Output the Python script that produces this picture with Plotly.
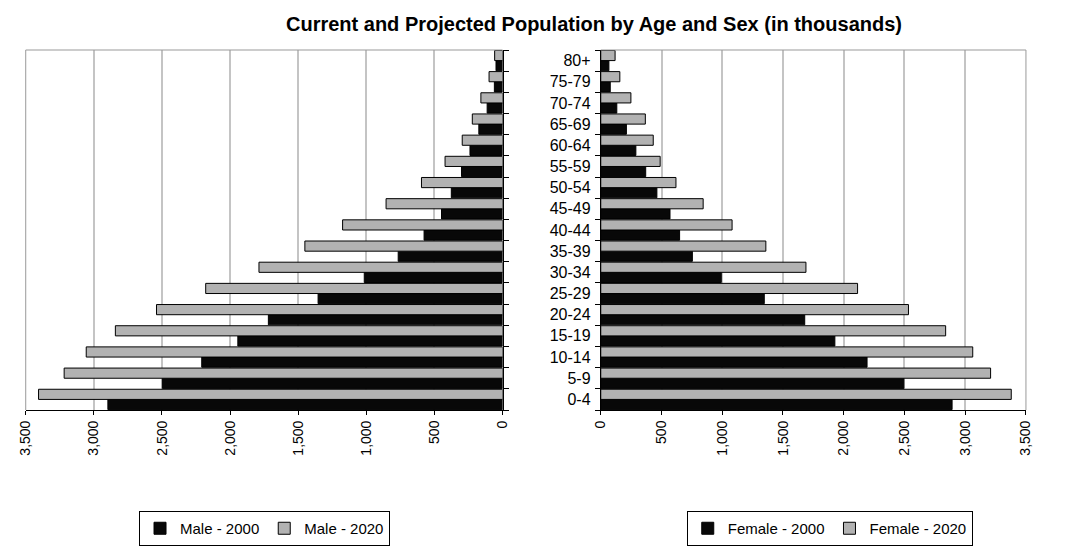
import plotly.graph_objects as go

ages = ["0-4", "5-9", "10-14", "15-19", "20-24", "25-29", "30-34", "35-39",
        "40-44", "45-49", "50-54", "55-59", "60-64", "65-69", "70-74", "75-79", "80+"]
male_2000 = [2897, 2497, 2208, 1943, 1719, 1354, 1015, 766, 576, 448, 376, 301, 239, 174, 113, 60, 48]
male_2020 = [3406, 3218, 3056, 2842, 2540, 2179, 1788, 1451, 1174, 855, 595, 422, 296, 222, 159, 99, 58]
female_2000 = [2892, 2495, 2192, 1927, 1679, 1346, 992, 754, 649, 570, 462, 370, 289, 211, 132, 78, 67]
female_2020 = [3379, 3209, 3062, 2839, 2533, 2114, 1689, 1359, 1081, 843, 619, 489, 432, 367, 248, 157, 118]
tick_vals = [0, 500, 1000, 1500, 2000, 2500, 3000, 3500]

W, H = 1077, 546
FONT = "Liberation Sans, Arial, sans-serif"
BLACK = "#080808"
GRAY = "#b2b2b2"

def px(x):
    return x / W

def py(y):
    return 1 - y / H

fig = go.Figure()
fig.add_trace(go.Bar(y=ages, x=male_2000, orientation="h", name="Male - 2000",
                     marker=dict(color=BLACK, line=dict(color="#000", width=1)),
                     xaxis="x", yaxis="y", legend="legend"))
fig.add_trace(go.Bar(y=ages, x=male_2020, orientation="h", name="Male - 2020",
                     marker=dict(color=GRAY, line=dict(color="#000", width=1)),
                     xaxis="x", yaxis="y", legend="legend"))
fig.add_trace(go.Bar(y=ages, x=female_2000, orientation="h", name="Female - 2000",
                     marker=dict(color=BLACK, line=dict(color="#000", width=1)),
                     xaxis="x2", yaxis="y2", legend="legend2"))
fig.add_trace(go.Bar(y=ages, x=female_2020, orientation="h", name="Female - 2020",
                     marker=dict(color=GRAY, line=dict(color="#000", width=1)),
                     xaxis="x2", yaxis="y2", legend="legend2"))

ydom = [py(410), py(50)]
xcommon = dict(tickvals=tick_vals, tickformat=",d", tickangle=-90,
               showgrid=True, gridcolor="#c4c4c4", gridwidth=1.5,
               ticks="outside", ticklen=4, tickcolor="#000",
               showline=True, linecolor="#000", linewidth=1,
               zeroline=False, tickfont=dict(family=FONT, size=14, color="#000"))
legend_common = dict(orientation="h", xanchor="left", y=py(511), yanchor="top",
                     bordercolor="#000", borderwidth=1,
                     font=dict(family=FONT, size=15, color="#000"),
                     itemwidth=30, tracegroupgap=0)
fig.update_layout(
    width=W, height=H,
    margin=dict(l=0, r=0, t=0, b=0),
    paper_bgcolor="white", plot_bgcolor="white",
    barmode="group", bargap=0.04, bargroupgap=0,
    font=dict(family=FONT, color="#000"),
    title=dict(text="<b>Current and Projected Population by Age and Sex (in thousands)</b>",
               x=px(594), xanchor="center", y=py(24), yanchor="middle",
               font=dict(family=FONT, size=20, color="#000")),
    xaxis=dict(domain=[px(18), px(502)], range=[3500, 0], anchor="y", **xcommon),
    xaxis2=dict(domain=[px(601.7), px(1033.3)], range=[0, 3500], anchor="y2", **xcommon),
    yaxis=dict(domain=ydom, anchor="x", side="right", showticklabels=False,
               ticks="outside", tickson="boundaries", ticklen=5, tickcolor="#000",
               showline=True, linecolor="#000", linewidth=1, showgrid=False,
               categoryorder="array", categoryarray=ages),
    yaxis2=dict(domain=ydom, anchor="x2", side="left", showticklabels=True,
                ticks="outside", tickson="boundaries", ticklen=5, tickcolor="#000",
                showline=True, linecolor="#000", linewidth=1, showgrid=False,
                categoryorder="array", categoryarray=ages, ticklabelstandoff=6,
                tickfont=dict(family=FONT, size=16, color="#000")),
    legend=dict(x=px(133), **legend_common),
    legend2=dict(x=px(689), **legend_common),
    showlegend=True,
)

# Gray plot-area borders on the outer sides
border = dict(color="#999999", width=1)
fig.add_shape(type="line", xref="x domain", yref="y domain", x0=0, x1=1, y0=1, y1=1, line=border)
fig.add_shape(type="line", xref="x domain", yref="y domain", x0=0, x1=0, y0=0, y1=1, line=border)
fig.add_shape(type="line", xref="x2 domain", yref="y2 domain", x0=0, x1=1, y0=1, y1=1, line=border)
fig.add_shape(type="line", xref="x2 domain", yref="y2 domain", x0=1, x1=1, y0=0, y1=1, line=border)

fig.write_html("out.html")
